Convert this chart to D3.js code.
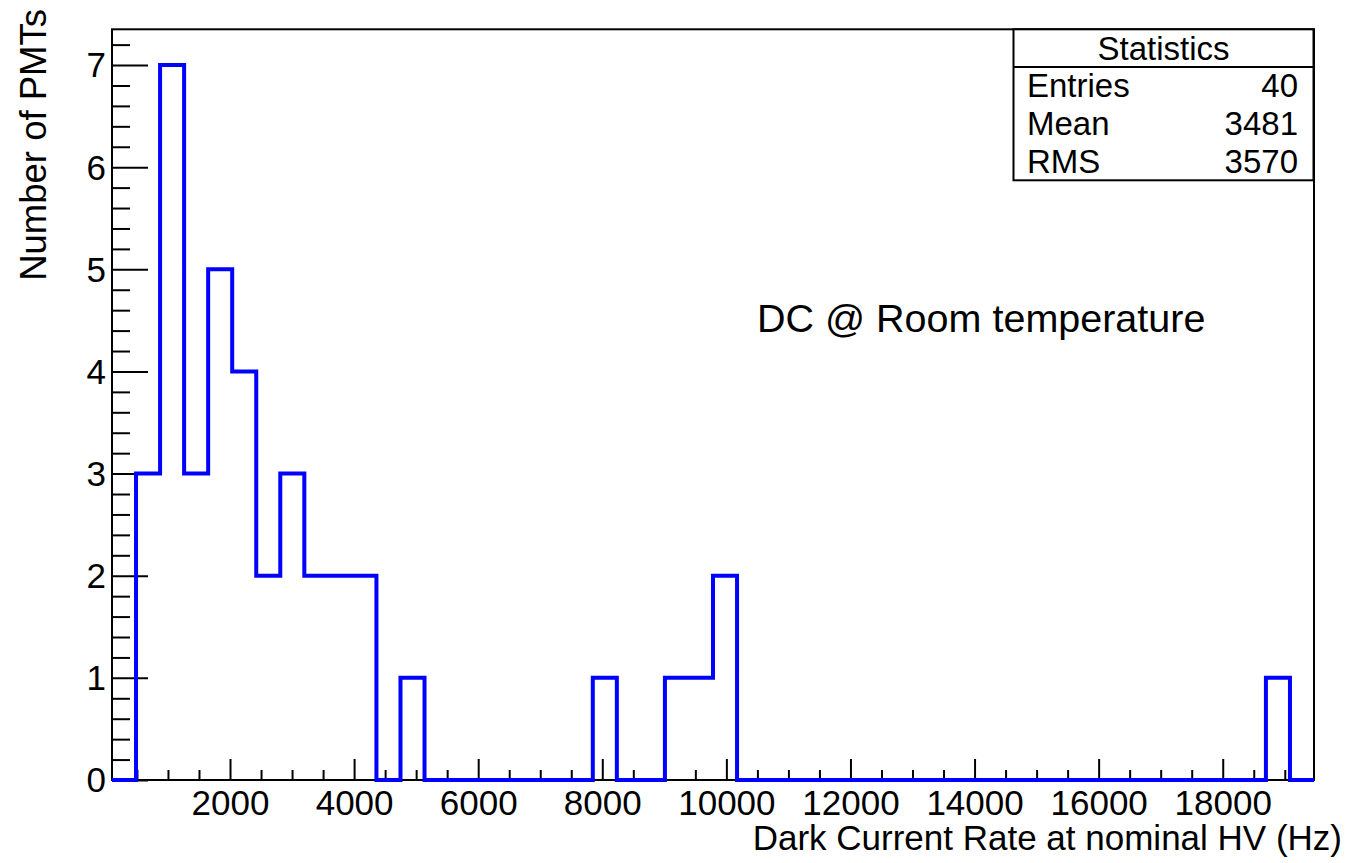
<!DOCTYPE html>
<html>
<head>
<meta charset="utf-8">
<script src="https://cdn.jsdelivr.net/npm/d3@7"></script>
<style>
  html, body { margin: 0; padding: 0; background: #fff; }
  svg { display: block; }
  text { font-family: "Liberation Sans", Arial, Helvetica, sans-serif; fill: #000; }
</style>
</head>
<body>
<svg id="chart" width="1349" height="863"></svg>
<script>
// ---- data ----
const xMin = 98;          // histogram lower edge (Hz)
const xMax = 19471;       // histogram upper edge (Hz)
const nBins = 50;
const counts = [
  0, 3, 7, 3, 5, 4, 2, 3, 2, 2,
  2, 0, 1, 0, 0, 0, 0, 0, 0, 0,
  1, 0, 0, 1, 1, 2, 0, 0, 0, 0,
  0, 0, 0, 0, 0, 0, 0, 0, 0, 0,
  0, 0, 0, 0, 0, 0, 0, 0, 1, 0
];
const yMax = 7.35;
const xMajorTicks = [2000, 4000, 6000, 8000, 10000, 12000, 14000, 16000, 18000];
const yMajorTicks = [0, 1, 2, 3, 4, 5, 6, 7];
const statLabels = ["Entries", "Mean", "RMS"];
const statValues = ["40", "3481", "3570"];
const xTitle = "Dark Current Rate at nominal HV (Hz)";
const yTitle = "Number of PMTs";
const annotation = "DC @ Room temperature";

// ---- layout ----
const frame = { left: 112, top: 29.3, right: 1314, bottom: 780 };
const svg = d3.select("#chart");

const x = d3.scaleLinear().domain([xMin, xMax]).range([frame.left, frame.right]);
const y = d3.scaleLinear().domain([0, yMax]).range([frame.bottom, frame.top]);

const binW = (xMax - xMin) / nBins;
const edges = d3.range(nBins + 1).map(i => xMin + i * binW);

// frame
svg.append("rect")
  .attr("x", frame.left).attr("y", frame.top)
  .attr("width", frame.right - frame.left).attr("height", frame.bottom - frame.top)
  .attr("fill", "none").attr("stroke", "#000").attr("stroke-width", 2);

// x axis minor ticks
const xMinor = d3.range(500, 19001, 500).filter(v => v % 2000 !== 0 && v > xMin && v < xMax);
svg.append("g").attr("transform", `translate(0,${frame.bottom})`)
  .call(d3.axisBottom(x).tickValues(xMinor).tickSize(-10).tickFormat(""))
  .call(g => g.select(".domain").remove())
  .call(g => g.selectAll("line").attr("stroke-width", 2));
// x axis major ticks
svg.append("g").attr("transform", `translate(0,${frame.bottom})`)
  .call(d3.axisBottom(x).tickValues(xMajorTicks).tickSize(-21).tickPadding(10).tickFormat(d3.format("d")))
  .call(g => g.select(".domain").remove())
  .call(g => g.selectAll("line").attr("stroke-width", 2))
  .call(g => g.selectAll("text").attr("font-size", 35).attr("font-family", "Liberation Sans, Arial, sans-serif").attr("fill", "#000"));

// y axis minor ticks
const yMinor = d3.range(0, 7.21, 0.2).map(v => Math.round(v * 10) / 10).filter(v => Math.abs(v - Math.round(v)) > 1e-6);
svg.append("g").attr("transform", `translate(${frame.left},0)`)
  .call(d3.axisLeft(y).tickValues(yMinor).tickSize(-18).tickFormat(""))
  .call(g => g.select(".domain").remove())
  .call(g => g.selectAll("line").attr("stroke-width", 2));
// y axis major ticks
svg.append("g").attr("transform", `translate(${frame.left},0)`)
  .call(d3.axisLeft(y).tickValues(yMajorTicks).tickSize(-36).tickPadding(6).tickFormat(d3.format("d")))
  .call(g => g.select(".domain").remove())
  .call(g => g.selectAll("line").attr("stroke-width", 2))
  .call(g => g.selectAll("text").attr("font-size", 35).attr("dy", "0.34em").attr("font-family", "Liberation Sans, Arial, sans-serif").attr("fill", "#000"));

// histogram outline (step)
const pts = [];
pts.push([edges[0], 0]);
counts.forEach((c, i) => { pts.push([edges[i], c]); pts.push([edges[i + 1], c]); });
pts.push([edges[nBins], 0]);
const line = d3.line().x(d => x(d[0])).y(d => y(d[1]));
svg.append("path").datum(pts)
  .attr("d", line)
  .attr("fill", "none").attr("stroke", "#0000ff").attr("stroke-width", 4)
  .attr("stroke-linejoin", "miter");

// axis titles
svg.append("text").attr("x", 1342).attr("y", 850)
  .attr("text-anchor", "end").attr("font-size", 35).text(xTitle);
svg.append("text").attr("transform", "translate(46,9) rotate(-90)")
  .attr("text-anchor", "end").attr("font-size", 36.5).text(yTitle);

// annotation
svg.append("text").attr("x", 757).attr("y", 332)
  .attr("font-size", 39.5).text(annotation);

// stats box
const sb = { x: 1013.5, y: 29.3, w: 300, h: 151, header: 67 };
svg.append("rect").attr("x", sb.x).attr("y", sb.y).attr("width", sb.w).attr("height", sb.h)
  .attr("fill", "#fff").attr("stroke", "#000").attr("stroke-width", 2);
svg.append("line").attr("x1", sb.x).attr("x2", sb.x + sb.w).attr("y1", sb.header).attr("y2", sb.header)
  .attr("stroke", "#000").attr("stroke-width", 2);
svg.append("text").attr("x", sb.x + sb.w / 2).attr("y", 60)
  .attr("text-anchor", "middle").attr("font-size", 33).text("Statistics");
const rowBase = [96.5, 135, 173];
statLabels.forEach((l, i) => {
  svg.append("text").attr("x", 1027).attr("y", rowBase[i]).attr("font-size", 33).text(l);
  svg.append("text").attr("x", 1298).attr("y", rowBase[i]).attr("text-anchor", "end").attr("font-size", 33).text(statValues[i]);
});
</script>
</body>
</html>
